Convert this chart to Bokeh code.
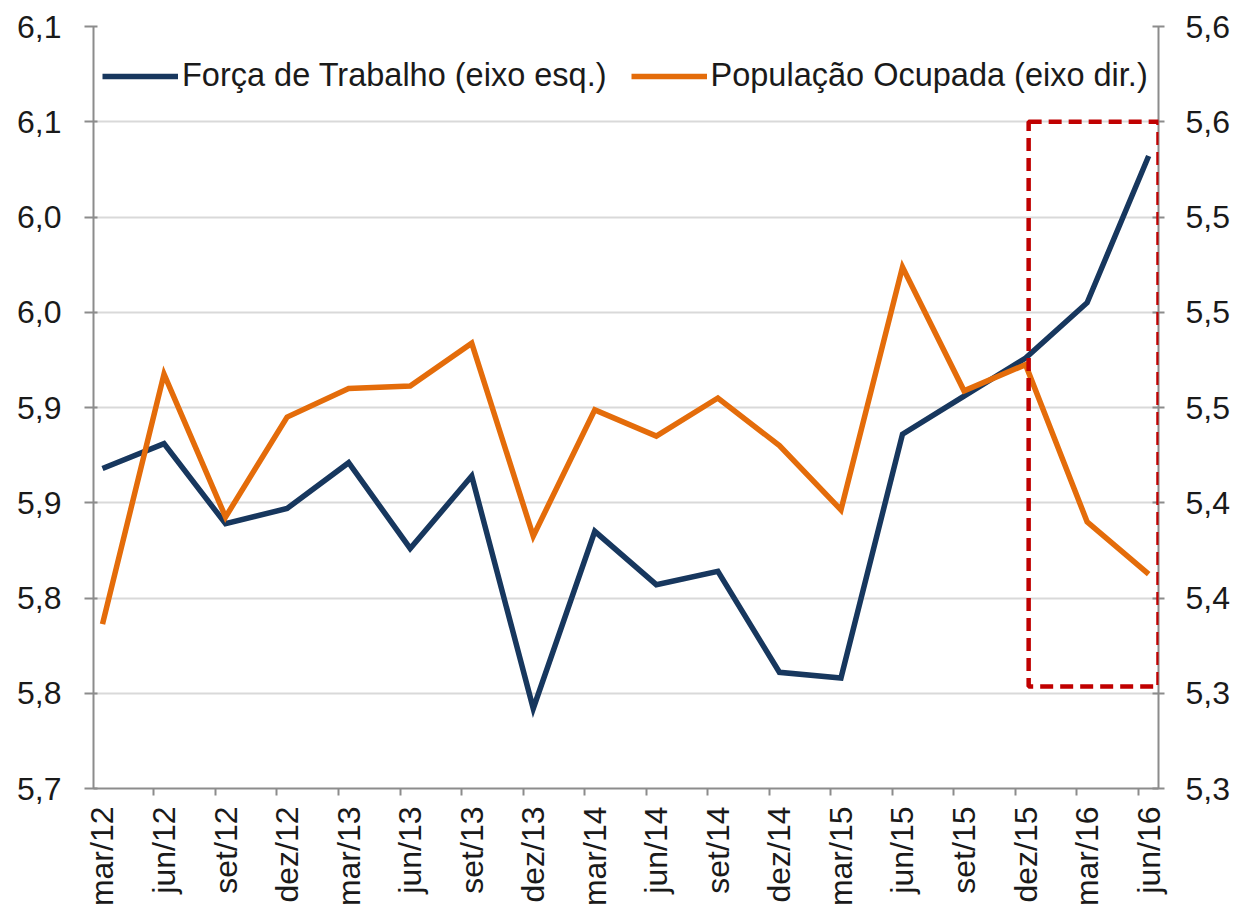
import math
from bokeh.plotting import figure
from bokeh.models import (Range1d, LinearAxis, FixedTicker, Legend, LegendItem,
                          BoxAnnotation)
from bokeh.embed import file_html
from bokeh.resources import INLINE

# ---------------- data ----------------
periods = ["mar/12", "jun/12", "set/12", "dez/12", "mar/13", "jun/13", "set/13",
           "dez/13", "mar/14", "jun/14", "set/14", "dez/14", "mar/15", "jun/15",
           "set/15", "dez/15", "mar/16", "jun/16"]
forca_trabalho = [5.868, 5.881, 5.839, 5.847, 5.871, 5.826, 5.864, 5.742, 5.835,
                  5.807, 5.814, 5.761, 5.758, 5.886, 5.906, 5.926, 5.955, 6.032]
populacao_ocupada = [5.369, 5.474, 5.414, 5.456, 5.468, 5.469, 5.487, 5.406, 5.459,
                     5.448, 5.464, 5.444, 5.417, 5.519, 5.467, 5.478, 5.412, 5.390]

left_ticks = [5.70, 5.75, 5.80, 5.85, 5.90, 5.95, 6.00, 6.05, 6.10]
left_labels = ["5,7", "5,8", "5,8", "5,9", "5,9", "6,0", "6,0", "6,1", "6,1"]
right_ticks = [5.30, 5.34, 5.38, 5.42, 5.46, 5.50, 5.54, 5.58, 5.62]
right_labels = ["5,3", "5,3", "5,4", "5,4", "5,5", "5,5", "5,5", "5,6", "5,6"]

# highlighted region (left-axis units, x in period index)
box_left, box_right, box_bottom, box_top = 15.05, 17.16, 5.7535, 6.05

label_names = ["Força de Trabalho (eixo esq.)", "População Ocupada (eixo dir.)"]

# ---------------- styles ----------------
FONT = "Liberation Sans"
BLUE = "#17375E"
ORANGE = "#E46C0A"
AXIS_GREY = "#8C8C8C"
GRID_GREY = "#D9D9D9"
TEXT = "#1A1A1A"

x = list(range(len(periods)))
tick_shift = 0.165  # category tick marks sit slightly left of the points

p = figure(width=1236, height=909, output_backend="svg", toolbar_location=None,
           x_range=Range1d(-0.146, 17.16), y_range=Range1d(5.70, 6.10),
           min_border_left=93, min_border_right=78, min_border_top=26,
           min_border_bottom=120, outline_line_color=None,
           background_fill_color="white", border_fill_color="white")
p.extra_y_ranges = {"right": Range1d(5.30, 5.62)}

# grid
p.xgrid.visible = False
p.ygrid.ticker = FixedTicker(ticks=left_ticks[:-1])
p.ygrid.grid_line_color = GRID_GREY
p.ygrid.grid_line_width = 2

# left axis
ya = p.yaxis[0]
ya.ticker = FixedTicker(ticks=left_ticks)
ya.major_label_overrides = dict(zip(left_ticks, left_labels))
ya.axis_line_color = AXIS_GREY
ya.axis_line_width = 2
ya.major_tick_line_color = AXIS_GREY
ya.major_tick_line_width = 2
ya.major_tick_out = 9
ya.major_tick_in = 4
ya.minor_tick_line_color = None
ya.major_label_standoff = 23
ya.major_label_text_font = FONT
ya.major_label_text_font_size = "32px"
ya.major_label_text_color = TEXT

# right axis
yr = LinearAxis(y_range_name="right", ticker=FixedTicker(ticks=right_ticks))
yr.major_label_overrides = dict(zip(right_ticks, right_labels))
yr.axis_line_color = AXIS_GREY
yr.axis_line_width = 2
yr.major_tick_line_color = AXIS_GREY
yr.major_tick_line_width = 2
yr.major_tick_out = 6
yr.major_tick_in = 6
yr.minor_tick_line_color = None
yr.major_label_standoff = 21
yr.major_label_text_font = FONT
yr.major_label_text_font_size = "32px"
yr.major_label_text_color = TEXT
p.add_layout(yr, "right")

# x axis: line + tick marks (no labels)
xa = p.xaxis[0]
tick_pos = [i - tick_shift for i in x]
xa.ticker = FixedTicker(ticks=tick_pos)
xa.major_label_overrides = {t: "" for t in tick_pos}
xa.major_label_text_font_size = "0px"
xa.major_label_standoff = 0
xa.axis_line_color = AXIS_GREY
xa.axis_line_width = 2
xa.major_tick_line_color = AXIS_GREY
xa.major_tick_line_width = 2
xa.major_tick_out = 7
xa.major_tick_in = 0
xa.minor_tick_line_color = None

# x axis: period labels centered on points
xl = LinearAxis(ticker=FixedTicker(ticks=x))
xl.major_label_overrides = {i: s for i, s in zip(x, periods)}
xl.major_label_orientation = math.pi / 2
xl.axis_line_color = None
xl.major_tick_line_color = None
xl.minor_tick_line_color = None
xl.major_tick_out = 0
xl.major_tick_in = 0
xl.major_label_standoff = 11
xl.major_label_text_font = FONT
xl.major_label_text_font_size = "32px"
xl.major_label_text_color = TEXT
p.add_layout(xl, "below")

# lines
r1 = p.line(x, forca_trabalho, line_color=BLUE, line_width=5.5, line_join="miter")
r2 = p.line(x, populacao_ocupada, line_color=ORANGE, line_width=5.5,
            line_join="miter", y_range_name="right")

# highlight box
p.add_layout(BoxAnnotation(left=box_left, right=box_right, bottom=box_bottom,
                           top=box_top, fill_color=None, fill_alpha=0,
                           line_color="#C00000", line_alpha=1.0,
                           line_width=4.5, line_dash="13 7"))

legend = Legend(items=[LegendItem(label=label_names[0], renderers=[r1]),
                       LegendItem(label=label_names[1], renderers=[r2])],
                orientation="horizontal", location=(9, 694))
legend.margin = 0
legend.padding = 0
legend.spacing = 24
legend.glyph_width = 76
legend.glyph_height = 30
legend.label_standoff = 4
legend.label_text_font = FONT
legend.label_text_font_size = "32.5px"
legend.label_text_color = TEXT
legend.border_line_color = None
legend.background_fill_color = "white"
legend.background_fill_alpha = 1.0
p.add_layout(legend)

open("out.html", "w").write(file_html(p, INLINE))
